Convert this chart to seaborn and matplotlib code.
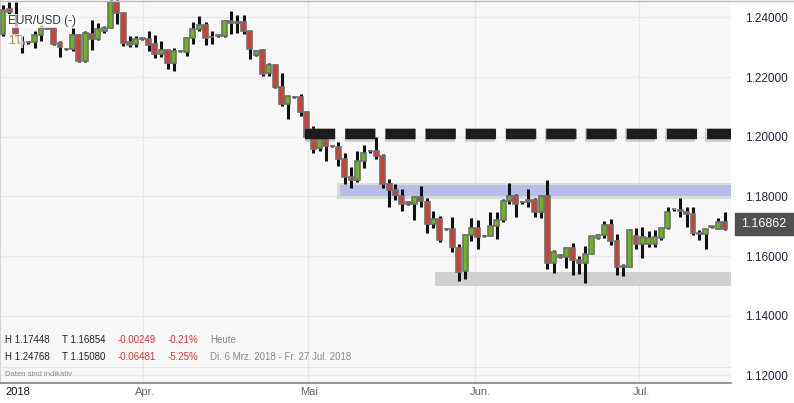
import numpy as np
import pandas as pd
import matplotlib
matplotlib.use("Agg")
import matplotlib.pyplot as plt
import seaborn as sns
from matplotlib.patches import Rectangle

# OHLC in 1/10000 units
open_p = [12346,12428,12366,12318,12318,12318,12342,12363,12363,12315,12294,12294,12342,12253,12346,12329,12353,12366,12452,12414,
          12318,12312,12330,12329,12312,12277,12291,12246,12287,12284,12332,12360,12373,12336,12339,12339,12387,12384,12384,12353,
          12274,12291,12215,12239,12167,12109,12133,12133,12082,11999,11962,11993,11969,11965,11927,11866,11855,11920,11951,11951,
          11934,11842,11821,11800,11780,11773,11797,11780,11708,11725,11691,11691,11626,11550,11670,11694,11667,11667,11701,11722,
          11783,11800,11780,11780,11787,11746,11800,11577,11605,11598,11626,11588,11577,11608,11660,11670,11704,11650,11564,11564,
          11667,11639,11639,11639,11660,11694,11756,11752,11749,11742,11677,11674,11698,11691,11715]
close_p = [12425,12418,12346,12312,12316,12342,12366,12362,12312,12301,12294,12342,12253,12349,12329,12360,12366,12452,12414,12315,
           12308,12329,12329,12308,12277,12291,12246,12287,12287,12332,12360,12373,12332,12334,12339,12387,12380,12382,12353,12294,
           12287,12209,12239,12167,12109,12137,12133,12082,11999,11958,11993,11969,11969,11927,11866,11855,11920,11944,11951,11934,
           11842,11821,11804,11776,11773,11797,11783,11708,11725,11653,11691,11629,11547,11670,11694,11663,11667,11701,11722,11783,
           11800,11773,11780,11787,11746,11800,11577,11612,11598,11626,11588,11577,11608,11667,11670,11704,11650,11564,11564,11687,
           11639,11663,11660,11663,11694,11749,11756,11752,11742,11677,11674,11691,11698,11715,11691]
high_p = [12442,12452,12452,12339,12322,12356,12373,12366,12366,12322,12298,12366,12346,12356,12390,12380,12370,12459,12459,12418,
          12339,12339,12336,12353,12342,12322,12294,12298,12291,12336,12384,12404,12384,12353,12342,12390,12421,12408,12408,12356,
          12291,12294,12246,12243,12215,12137,12137,12143,12085,12037,12013,11996,11972,11982,11944,11900,11951,11972,11955,11999,
          11941,11859,11842,11824,11783,11800,11835,11794,11752,11735,11694,11732,11639,11674,11728,11722,11670,11749,11749,11790,
          11845,11807,11783,11824,11794,11804,11855,11619,11608,11629,11643,11601,11632,11667,11674,11718,11725,11674,11574,11691,
          11694,11698,11684,11687,11698,11766,11759,11794,11763,11763,11687,11691,11701,11728,11749]
low_p = [12339,12411,12339,12281,12312,12298,12322,12360,12308,12267,12291,12287,12250,12250,12291,12325,12349,12363,12377,12305,
         12301,12301,12325,12287,12263,12267,12226,12219,12284,12270,12312,12356,12308,12312,12336,12336,12346,12349,12346,12260,
         12270,12205,12205,12164,12102,12061,12130,12071,11996,11944,11951,11917,11965,11903,11842,11828,11848,11896,11944,11927,
         11828,11766,11787,11752,11770,11722,11763,11677,11694,11646,11687,11615,11516,11523,11650,11622,11663,11667,11656,11715,
         11776,11732,11776,11763,11732,11728,11557,11543,11595,11560,11536,11540,11509,11608,11656,11660,11636,11536,11533,11564,
         11622,11595,11629,11629,11653,11691,11752,11732,11698,11670,11653,11622,11694,11691,11687]

resistance_level = 1.2010
blue_zone = (1.1800, 1.1838)
gray_zone = (1.1499, 1.1547)
y_ticks = [1.12, 1.14, 1.16, 1.18, 1.20, 1.22, 1.24]
month_labels = ["2018", "Apr.", "Mai", "Jun.", "Jul."]
last_price = "1.16862"

df = pd.DataFrame({"o": np.array(open_p)/1e4, "c": np.array(close_p)/1e4,
                   "h": np.array(high_p)/1e4, "l": np.array(low_p)/1e4})
df["i"] = np.arange(len(df))

sns.set_theme(style="white")
plt.rcParams["font.family"] = ["Liberation Sans", "DejaVu Sans"]

W, H = 794, 403
fig = plt.figure(figsize=(W/100, H/100), dpi=100)
fig.patch.set_facecolor("white")
ax = fig.add_axes([0, 20/H, 731/W, 383/H])
ax.set_facecolor("#f7f7f7")

def px_to_idx(x):
    return (x - 3) / 6.33

ax.set_xlim(px_to_idx(0), px_to_idx(731))
ax.set_ylim(1.11742, 1.24585)

for y in y_ticks:
    ax.axhline(y, color="#e8e8ee", lw=1, zorder=0)
grid_x = [143, 308, 475, 639]
for gx in grid_x:
    ax.axvline(px_to_idx(gx), color="#e8e8f0", lw=1, zorder=0)

# zones
x0b = px_to_idx(340)
ax.add_patch(Rectangle((x0b-0.4, blue_zone[0]-0.0008), 200, blue_zone[1]-blue_zone[0]+0.0016,
                       color="#d4d4d4", alpha=0.8, zorder=1, lw=0))
ax.add_patch(Rectangle((x0b, blue_zone[0]), 200, blue_zone[1]-blue_zone[0],
                       color="#b9bde9", zorder=1.5, lw=0))
x0g = px_to_idx(435)
ax.add_patch(Rectangle((x0g, gray_zone[0]), 200, gray_zone[1]-gray_zone[0],
                       color="#d0d0d0", zorder=1, lw=0))

# candles
up = df["c"] >= df["o"]
ax.vlines(df["i"], df["l"], df["h"], color="#111111", lw=2.2, zorder=3)
bottoms = np.minimum(df["o"], df["c"])
heights = np.maximum(np.abs(df["c"] - df["o"]), 0.00012)
colors = np.where(up, "#66bb11", "#e0382a")
ax.bar(df["i"], heights, bottom=bottoms, width=0.78, color=colors,
       edgecolor="#707070", linewidth=1.2, zorder=4)

# resistance dashed line
x0r = px_to_idx(305)
x1r = px_to_idx(740)
ax.plot([x0r, x1r], [resistance_level-0.0003]*2, color="#888888", alpha=0.35,
        lw=10, dashes=(2.16, 0.72), zorder=5, solid_capstyle="butt")
ax.plot([x0r, x1r], [resistance_level]*2, color="#1c1c1c",
        lw=7.5, dashes=(2.9, 0.96), zorder=6, solid_capstyle="butt")

ax.set_xticks([])
ax.yaxis.tick_right()
ax.set_yticks(y_ticks)
ax.set_yticklabels([f"{v:.5f}" for v in y_ticks], color="#222244", fontsize=8.5)
ax.tick_params(axis="y", length=0, pad=10)
for s in ["top", "right"]:
    ax.spines[s].set_visible(False)
ax.spines["left"].set_color("#cccccc")
ax.spines["bottom"].set_color("#888888")

def ft(x, y, s, **kw):
    fig.text(x/W, 1 - y/H, s, va="center", **kw)

ft(8, 21, "EUR/USD (-)", fontsize=8.5, color="#333333",
   bbox=dict(facecolor="white", alpha=0.7, edgecolor="none", pad=1))
ft(8, 41, "1T", fontsize=8.5, color="#c8801a",
   bbox=dict(facecolor="white", alpha=0.7, edgecolor="none", pad=1))

rows = [(340, "H 1.17448", "T 1.16854", "-0.00249", "-0.21%", "Heute"),
        (357, "H 1.24768", "T 1.15080", "-0.06481", "-5.25%", "Di. 6 Mrz. 2018 - Fr. 27 Jul. 2018")]
for y, a, b, c, d, e in rows:
    ft(5, y, a, fontsize=7, color="#222222")
    ft(62, y, b, fontsize=7, color="#222222")
    ft(118, y, c, fontsize=7, color="#e03030")
    ft(168, y, d, fontsize=7, color="#e03030")
    ft(210, y, e, fontsize=7, color="#888888")
fig.add_artist(plt.Line2D([0, 731/W], [1-367/H]*2, color="#e4e4e4", lw=0.8))
ft(5, 374, "Daten sind indikativ", fontsize=5.5, color="#888888")

label_x = [5, 145, 309, 480, 641]
for i, (lx, lab) in enumerate(zip(label_x, month_labels)):
    ft(lx, 392, lab, fontsize=8, color="#111111" if i == 0 else "#666666",
       ha="left" if i == 0 else "center")

# price box
fig.add_artist(Rectangle((735/W, 1-235/H), 59/W, 22/H, color="#505050",
                         transform=fig.transFigure))
ft(764, 224, last_price, fontsize=9, color="white", ha="center")
fig.add_artist(plt.Line2D([0, 1], [1-0.5/H]*2, color="#bbbbbb", lw=1))

fig.savefig("out.png", dpi=100)
